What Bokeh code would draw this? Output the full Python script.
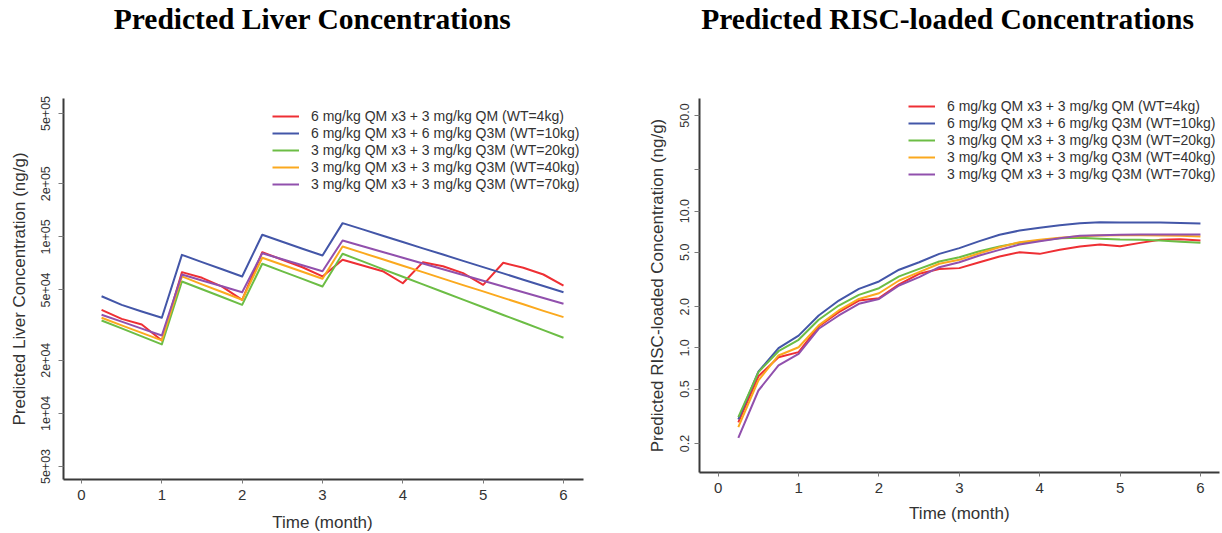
from bokeh.plotting import figure
from bokeh.layouts import row, column
from bokeh.models import Range1d, FixedTicker, Label, Legend, LegendItem
from bokeh.embed import file_html
from bokeh.resources import INLINE

# Sampling times (months)
months = [0.25, 0.5, 0.75, 1.0, 1.25, 1.5, 1.75, 2.0, 2.25, 2.5, 2.75, 3.0,
          3.25, 3.5, 3.75, 4.0, 4.25, 4.5, 4.75, 5.0, 5.25, 5.5, 5.75, 6.0]

regimens = [
    "6 mg/kg QM x3 + 3 mg/kg QM (WT=4kg)",
    "6 mg/kg QM x3 + 6 mg/kg Q3M (WT=10kg)",
    "3 mg/kg QM x3 + 3 mg/kg Q3M (WT=20kg)",
    "3 mg/kg QM x3 + 3 mg/kg Q3M (WT=40kg)",
    "3 mg/kg QM x3 + 3 mg/kg Q3M (WT=70kg)",
]
colors = ["#ee2f34", "#4356a8", "#6cbd45", "#fba91e", "#9150ad"]

# Predicted liver concentrations (ng/g)
liver_wt4 = [38600, 34300, 31900, 25900, 63100, 58600, 52300, 44000, 81800, 74200, 67300, 59700,
             74200, 68800, 63900, 54600, 71900, 68200, 62300, 53500, 71300, 66800, 61200, 53000]
liver_wt10 = [46100, 41200, 37800, 34800, 79100, 71900, 65500, 59650, 102800, 93800, 85700, 78400,
              119600, 110200, 101400, 93500, 86100, 79400, 73100, 67400, 62100, 57200, 52700, 48600]
liver_wt20 = [33600, 30300, 27300, 24600, 55900, 50500, 45600, 41200, 70400, 63800, 57800, 52300,
              80200, 72600, 65600, 59400, 53800, 48700, 44100, 39900, 36100, 32700, 29600, 26800]
liver_wt40 = [34800, 31500, 28600, 25900, 59700, 53800, 48700, 44000, 76100, 69500, 63400, 57900,
              88200, 81100, 74600, 68600, 63100, 58000, 53300, 49100, 45100, 41500, 38100, 35100]
liver_wt70 = [36200, 33100, 30200, 27600, 61200, 56600, 52500, 48600, 80800, 74700, 69100, 63900,
              95400, 88500, 82100, 76200, 70700, 65600, 60800, 56400, 52300, 48600, 45000, 41800]

# Predicted RISC-loaded concentrations (ng/g)
risc_wt4 = [0.285, 0.62, 0.855, 0.931, 1.434, 1.824, 2.22, 2.31, 2.91, 3.48, 3.78, 3.83,
            4.23, 4.66, 5.01, 4.87, 5.21, 5.51, 5.70, 5.54, 5.86, 6.17, 6.23, 6.10]
risc_wt10 = [0.30, 0.67, 0.995, 1.23, 1.726, 2.22, 2.70, 3.06, 3.73, 4.23, 4.87, 5.36,
             6.03, 6.71, 7.21, 7.55, 7.89, 8.16, 8.30, 8.26, 8.26, 8.26, 8.20, 8.12]
risc_wt20 = [0.312, 0.665, 0.946, 1.146, 1.605, 2.04, 2.44, 2.73, 3.33, 3.78, 4.28, 4.60,
             5.09, 5.51, 5.87, 6.10, 6.33, 6.38, 6.28, 6.20, 6.17, 6.10, 5.96, 5.86]
risc_wt40 = [0.263, 0.578, 0.88, 1.01, 1.46, 1.877, 2.28, 2.51, 3.11, 3.58, 4.12, 4.41,
             4.92, 5.45, 5.93, 6.17, 6.38, 6.56, 6.64, 6.67, 6.67, 6.64, 6.60, 6.52]
risc_wt70 = [0.220, 0.488, 0.744, 0.905, 1.38, 1.726, 2.10, 2.28, 2.86, 3.29, 3.89, 4.23,
             4.74, 5.21, 5.70, 6.03, 6.33, 6.60, 6.67, 6.71, 6.75, 6.75, 6.75, 6.75]

x_ticks = [0, 1, 2, 3, 4, 5, 6]
liver_ticks = [5000, 10000, 20000, 50000, 100000, 200000, 500000]
liver_tick_labels = ["5e+03", "1e+04", "2e+04", "5e+04", "1e+05", "2e+05", "5e+05"]
risc_ticks = [0.2, 0.5, 1.0, 2.0, 5.0, 10.0, 20.0, 50.0]
risc_tick_labels = ["0.2", "0.5", "1.0", "2.0", "5.0", "10.0", "", "50.0"]

SANS = "Liberation Sans"
SERIF = "Liberation Serif"
INK = "#333333"
PANEL_W = 611


def text_strip(height, x_range, text, x, y, font, size, style, color):
    """A bare figure carrying one line of text; its frame lines up with the
    plot frame below/above it, so x is given in months."""
    s = figure(width=PANEL_W, height=height, x_range=Range1d(*x_range),
               y_range=Range1d(0, height), x_axis_location=None, y_axis_location=None,
               output_backend="svg", toolbar_location=None, min_border=0, title=None)
    s.outline_line_color = None
    s.grid.visible = False
    s.add_layout(Label(x=x, y=y, text=text, text_align="center", text_baseline="middle",
                       text_font=font, text_font_size=size, text_font_style=style,
                       text_color=color))
    return s


def make_panel(ylabel, series, yticks, ylabels, x_range, y_range, height,
               borders, tick_standoff, label_standoff, legend_pos):
    left, right, bottom = borders
    p = figure(width=PANEL_W, height=height, x_range=Range1d(*x_range),
               y_range=Range1d(*y_range), y_axis_type="log", output_backend="svg",
               toolbar_location=None, min_border_left=left, min_border_right=right,
               min_border_top=53, min_border_bottom=bottom, y_axis_label=ylabel, title=None)
    p.outline_line_color = None
    p.grid.visible = False
    p.background_fill_color = "white"
    p.border_fill_color = "white"

    p.xaxis.ticker = FixedTicker(ticks=x_ticks, minor_ticks=[])
    p.yaxis.ticker = FixedTicker(ticks=yticks, minor_ticks=[])
    p.yaxis.major_label_overrides = {float(t): lab for t, lab in zip(yticks, ylabels)}
    p.yaxis.major_label_orientation = "parallel"

    for ax in (p.xaxis, p.yaxis):
        ax.axis_line_color = "#3a3a3a"
        ax.axis_line_width = 2
        ax.major_tick_line_color = "#7a7a7a"
        ax.major_tick_line_width = 1
        ax.major_tick_in = 0
        ax.minor_tick_line_color = None
        ax.major_label_text_font = SANS
        ax.major_label_text_color = INK
        ax.axis_label_text_font = SANS
        ax.axis_label_text_font_style = "normal"
        ax.axis_label_text_color = INK
        ax.axis_label_text_font_size = "17px"
    p.xaxis.major_tick_out = 4
    p.yaxis.major_tick_out = 5
    p.xaxis.major_label_text_font_size = "15px"
    p.yaxis.major_label_text_font_size = "12.5px"
    p.xaxis.major_label_standoff = 6
    p.yaxis.major_label_standoff = tick_standoff
    p.yaxis.axis_label_standoff = label_standoff

    items = []
    for name, vals, col in zip(regimens, series, colors):
        r = p.line(months, vals, line_color=col, line_width=2, line_join="round")
        items.append(LegendItem(label=name, renderers=[r]))

    legend = Legend(items=items, location=legend_pos, orientation="vertical",
                    glyph_width=27, glyph_height=16, label_height=16, label_standoff=12,
                    spacing=1, padding=0, margin=0, border_line_color=None,
                    background_fill_alpha=0, label_text_font=SANS,
                    label_text_font_size="14px", label_text_color=INK)
    p.add_layout(legend)
    return p


TITLE_H = 45
LIVER_X = (-0.224, 6.249)
RISC_X = (-0.233, 6.237)

# Liver panel: frame spans page y 98..479
liver_title = text_strip(TITLE_H, LIVER_X, "Predicted Liver Concentrations", 2.876, 27,
                         SERIF, "29.5px", "bold", "black")
liver = make_panel(
    "Predicted Liver Concentration (ng/g)",
    [liver_wt4, liver_wt10, liver_wt20, liver_wt40, liver_wt70],
    liver_ticks, liver_tick_labels,
    x_range=LIVER_X, y_range=(4220, 608000), height=463,
    borders=(63, 28, 29), tick_standoff=8, label_standoff=10, legend_pos=(209, 287))
liver_xlab = text_strip(25, LIVER_X, "Time (month)", 3.0, 11.5, SANS, "17px", "normal", INK)

# RISC-loaded panel: frame spans page y 98..472
risc_title = text_strip(TITLE_H, RISC_X, "Predicted RISC-loaded Concentrations", 2.853, 27,
                        SERIF, "29.5px", "bold", "black")
risc = make_panel(
    "Predicted RISC-loaded Concentration (ng/g)",
    [risc_wt4, risc_wt10, risc_wt20, risc_wt40, risc_wt70],
    risc_ticks, risc_tick_labels,
    x_range=RISC_X, y_range=(0.1227, 66.6), height=455,
    borders=(88, 3, 28), tick_standoff=5, label_standoff=11, legend_pos=(209, 290))
risc_xlab = text_strip(33, RISC_X, "Time (month)", 3.0, 20.5, SANS, "17px", "normal", INK)

page = row(column(liver_title, liver, liver_xlab), column(risc_title, risc, risc_xlab))
open("out.html", "w").write(file_html(page, INLINE))
